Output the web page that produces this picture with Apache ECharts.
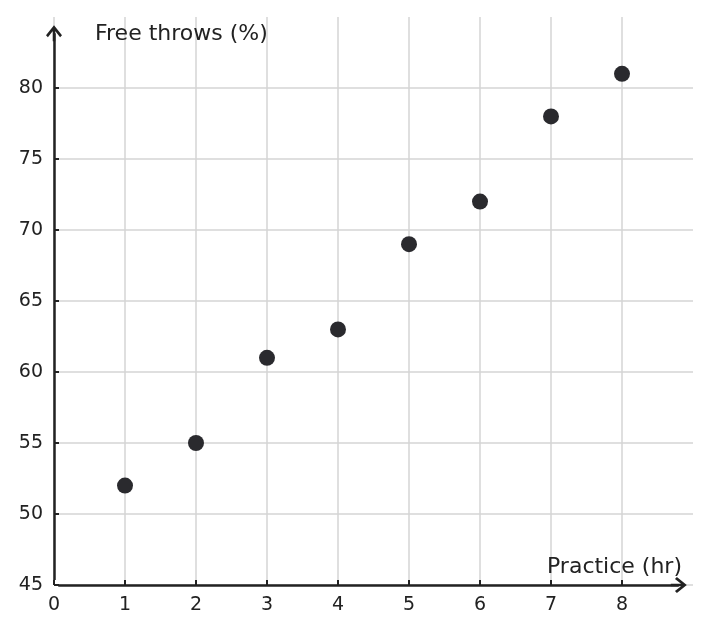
<!DOCTYPE html>
<html>
<head>
<meta charset="utf-8">
<script src="https://cdn.jsdelivr.net/npm/echarts@6/dist/echarts.min.js"></script>
<style>
  html, body { margin: 0; padding: 0; background: #fff; }
  #chart { width: 710px; height: 633px; }
</style>
</head>
<body>
<div id="chart"></div>
<script>
// practice hours vs free throw percentage
const hours = [1, 2, 3, 4, 5, 6, 7, 8];
const freeThrows = [52, 55, 61, 63, 69, 72, 78, 81];

const xName = 'Practice (hr)';
const yName = 'Free throws (%)';

// where the drawn axis arrows stop (the grid itself runs a bit further)
const xArrowEnd = 8.8;
const yArrowEnd = 83.85;

// chevron with a short stem so the line runs right up to the tip
const chevron = 'path://M50,0 L100,62 L88,74 L50,26 L12,74 L0,62 Z M42,20 L58,20 L58,100 L42,100 Z';

const ink = '#222';
const font = 'DejaVu Sans';

const chart = echarts.init(document.getElementById('chart'));

const axisCommon = {
  axisLine: { show: false },
  axisTick: { show: true, inside: true, length: 5, lineStyle: { color: ink, width: 2 } },
  splitLine: { show: true, showMinLine: true, showMaxLine: false, lineStyle: { color: '#d4d4d4', width: 1.5 } },
  axisLabel: { color: ink, fontSize: 19, fontFamily: font, margin: 11, showMaxLabel: false }
};

chart.setOption({
  animation: false,
  grid: { left: 54, right: 17, top: 17, bottom: 48, containLabel: false },
  xAxis: Object.assign({}, axisCommon, {
    type: 'value',
    min: 0,
    max: 9,
    interval: 1,
    name: xName,
    nameLocation: 'end',
    nameGap: -11,
    nameTextStyle: {
      color: ink, fontSize: 22, fontFamily: font,
      align: 'right', verticalAlign: 'bottom', padding: [0, 0, 7, 0]
    }
  }),
  yAxis: Object.assign({}, axisCommon, {
    type: 'value',
    min: 45,
    max: 85,
    interval: 5,
    name: yName,
    nameLocation: 'end',
    nameGap: -17,
    nameTextStyle: {
      color: ink, fontSize: 22, fontFamily: font,
      align: 'left', verticalAlign: 'middle', padding: [0, 0, 0, 41]
    }
  }),
  series: [{
    type: 'scatter',
    data: hours.map((h, i) => [h, freeThrows[i]]),
    symbol: 'circle',
    symbolSize: 16,
    itemStyle: { color: '#2a2a2e', opacity: 1 },
    markLine: {
      silent: true,
      animation: false,
      symbol: ['none', chevron],
      symbolSize: [16, 16],
      label: { show: false },
      lineStyle: { color: ink, width: 2.5, type: 'solid' },
      emphasis: { disabled: true },
      data: [
        [{ coord: [0, 45.35] }, { coord: [0, yArrowEnd] }],
        [{ coord: [0.06, 45] }, { coord: [xArrowEnd, 45] }]
      ]
    }
  }]
});
</script>
</body>
</html>
